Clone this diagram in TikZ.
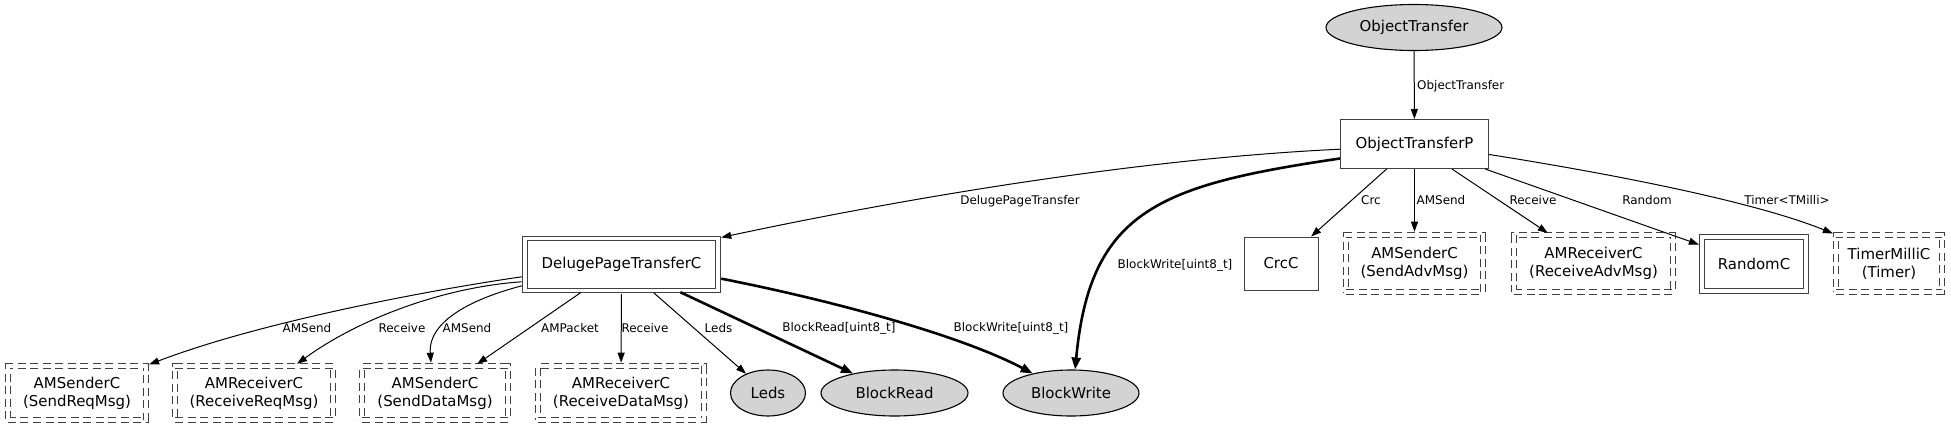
\documentclass[tikz,border=0pt]{standalone}
\usepackage{fontspec}
\setmainfont{DejaVu Sans}
\usepackage{tikz}
\usetikzlibrary{arrows.meta,shapes}

\definecolor{grisbord}{RGB}{64,64,64}
\definecolor{grisfond}{RGB}{211,211,211}

\begin{document}
\begin{tikzpicture}[x=1bp,y=-1bp,
	boite/.style={rectangle, draw=grisbord, line width=1bp, inner sep=0pt, align=center, font=\fontsize{15}{18}\selectfont},
	boitedouble/.style={boite, double, double distance=3.6bp},
	generique/.style={boitedouble, dash pattern=on 8bp off 4.5bp},
	interface/.style={ellipse, draw=black, fill=grisfond, line width=1.1bp, inner sep=0pt, font=\fontsize{15}{18}\selectfont},
	lien/.style={-{Triangle[length=10bp,width=7bp]}, line width=1bp},
	lienfort/.style={-{Triangle[length=12bp,width=9bp]}, line width=2.6bp},
	versdouble/.style={shorten >=2.8bp},
	depuisdouble/.style={shorten <=2.8bp},
	etiq/.style={font=\fontsize{12}{14}\selectfont, inner sep=0pt}]

%%%%%%%%%%%%%%%%%%%%%%
%%%	    Cadre       %%%
%%%%%%%%%%%%%%%%%%%%%%

\fill[white] (0,0) rectangle (1951,429);
\useasboundingbox (0,0) rectangle (1951,429);

%%%%%%%%%%%%%%%%%%%%%%
%%%	  Def géométrie  %%%
%%%%%%%%%%%%%%%%%%%%%%

\def \yhaut{27.5}
\def \ymilieu{263.5}
\def \ybas{393}
\def \yetiqhaut{200}
\def \yetiqbas{328}

%%%%%%%%%%%%%%%%%%%%%%
%%%	    Noeuds      %%%
%%%%%%%%%%%%%%%%%%%%%%

% Interface fournie et module principal
\node[interface, minimum width=176bp, minimum height=46bp] (ot) at (1414,\yhaut) {ObjectTransfer};
\node[boite, minimum width=148bp, minimum height=49bp] (otp) at (1414.5,144) {ObjectTransferP};

% Rangée du milieu
\node[boitedouble, minimum width=193bp, minimum height=52bp] (dpt) at (621.5,264.5) {DelugePageTransferC};
\node[boite, minimum width=74bp, minimum height=53bp] (crc) at (1281,\ymilieu) {CrcC};
\node[generique, minimum width=137bp, minimum height=57bp] (sadv) at (1414.5,\ymilieu) {AMSenderC\\(SendAdvMsg)};
\node[generique, minimum width=159bp, minimum height=57bp] (radv) at (1593.5,\ymilieu) {AMReceiverC\\(ReceiveAdvMsg)};
\node[boitedouble, minimum width=104bp, minimum height=54bp] (rnd) at (1754,264) {RandomC};
\node[generique, minimum width=106bp, minimum height=57bp] (tmr) at (1889,\ymilieu) {TimerMilliC\\(Timer)};

% Rangée du bas
\node[generique, minimum width=138bp, minimum height=54bp] (sreq) at (77,\ybas) {AMSenderC\\(SendReqMsg)};
\node[generique, minimum width=158bp, minimum height=54bp] (rreq) at (254,\ybas) {AMReceiverC\\(ReceiveReqMsg)};
\node[generique, minimum width=146bp, minimum height=54bp] (sdat) at (435,\ybas) {AMSenderC\\(SendDataMsg)};
\node[generique, minimum width=166bp, minimum height=54bp] (rdat) at (621,\ybas) {AMReceiverC\\(ReceiveDataMsg)};
\node[interface, minimum width=75bp, minimum height=46bp] (leds) at (768,\ybas) {Leds};
\node[interface, minimum width=147bp, minimum height=46bp] (bread) at (894.5,\ybas) {BlockRead};
\node[interface, minimum width=136bp, minimum height=46bp] (bwrite) at (1071,\ybas) {BlockWrite};

%%%%%%%%%%%%%%%%%%%%%%
%%%	    Liens       %%%
%%%%%%%%%%%%%%%%%%%%%%

% Depuis ObjectTransferP
\draw[lien] (ot) -- (otp);
\draw[lien, versdouble] (otp.184) .. controls (1150,158) and (920,195) .. (dpt.north east);
\draw[lienfort] (otp.191) .. controls (1160,185) and (1090,210) .. (bwrite.80);
\draw[lien] (otp) -- (crc);
\draw[lien, versdouble] (otp) -- (sadv);
\draw[lien, versdouble] (otp) -- (radv);
\draw[lien, versdouble] (otp) -- (rnd);
\draw[lien, versdouble] (otp.-8) .. controls (1600,172) and (1750,200) .. (tmr.north west);

% Depuis DelugePageTransferC
\draw[lien, depuisdouble, versdouble] (dpt.187) .. controls (430,290) and (260,322) .. (sreq.north east);
\draw[lien, depuisdouble, versdouble] (dpt.190) .. controls (445,287) and (360,318) .. (rreq.34);
\draw[lien, depuisdouble, versdouble] (dpt.192) .. controls (475,298) and (428,320) .. (sdat.98);
\draw[lien, depuisdouble, versdouble] (dpt) -- (sdat);
\draw[lien, depuisdouble, versdouble] (dpt) -- (rdat);
\draw[lien, depuisdouble] (dpt) -- (leds);
\draw[lienfort, depuisdouble] (dpt) -- (bread);
\draw[lienfort, depuisdouble] (dpt.-8.5) .. controls (830,300) and (960,335) .. (bwrite.153);

%%%%%%%%%%%%%%%%%%%%%%
%%%	   Etiquettes   %%%
%%%%%%%%%%%%%%%%%%%%%%

\node[etiq, anchor=west] (e-ot) at (1417,86) {ObjectTransfer};
\node[etiq] (e-dpt) at (1020,201) {DelugePageTransfer};
\node[etiq] (e-bw) at (1175,265) {BlockWrite[uint8\_t]};
\node[etiq] (e-crc) at (1371,\yetiqhaut) {Crc};
\node[etiq] (e-sadv) at (1441,\yetiqhaut) {AMSend};
\node[etiq] (e-radv) at (1533,\yetiqhaut) {Receive};
\node[etiq] (e-rnd) at (1647,\yetiqhaut) {Random};
\node[etiq] (e-tmr) at (1787,\yetiqhaut) {Timer<TMilli>};

\node[etiq] (e-sreq) at (307,\yetiqbas) {AMSend};
\node[etiq] (e-rreq) at (402,\yetiqbas) {Receive};
\node[etiq] (e-sdat) at (467,\yetiqbas) {AMSend};
\node[etiq] (e-pkt) at (570,\yetiqbas) {AMPacket};
\node[etiq] (e-rdat) at (645,\yetiqbas) {Receive};
\node[etiq] (e-leds) at (718.5,\yetiqbas) {Leds};
\node[etiq] (e-bread) at (839,\yetiqbas) {BlockRead[uint8\_t]};
\node[etiq] (e-bwrite) at (1011,\yetiqbas) {BlockWrite[uint8\_t]};

%%%%%%%%%%%%%%%%%%%%%%%%%%%%%%%%%%%%%%%%%

\end{tikzpicture}
\end{document}
